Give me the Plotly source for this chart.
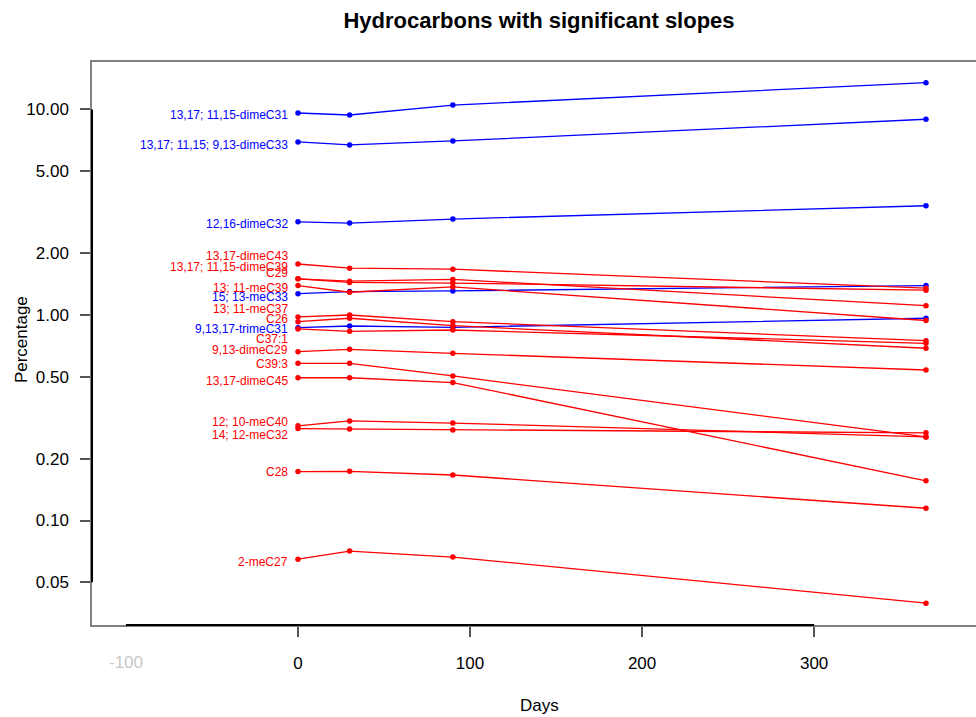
import plotly.graph_objects as go
import math

# Sampling days
days = [0, 30, 90, 365]

# Hydrocarbon percentages per sampling day (blue group: increasing slopes)
dimeC31_13_17_11_15 = [9.61, 9.40, 10.5, 13.5]
dimeC33_13_17_11_15_9_13 = [6.95, 6.72, 7.03, 8.96]
dimeC32_12_16 = [2.84, 2.80, 2.93, 3.40]
meC33_15_13 = [1.27, 1.30, 1.31, 1.39]
trimeC31_9_13_17 = [0.867, 0.884, 0.871, 0.964]

# Red group: decreasing slopes
dimeC43_13_17 = [1.77, 1.69, 1.67, 1.35]
dimeC39_13_17_11_15 = [1.50, 1.46, 1.49, 1.11]
C29 = [1.50, 1.44, 1.43, 1.32]
meC39_13_11 = [1.39, 1.29, 1.37, 0.94]
meC37_13_11 = [0.978, 1.00, 0.928, 0.750]
C26 = [0.928, 0.964, 0.887, 0.689]
C37_1 = [0.855, 0.833, 0.845, 0.728]
dimeC29_9_13 = [0.663, 0.681, 0.651, 0.540]
C39_3 = [0.582, 0.582, 0.505, 0.255]
dimeC45_13_17 = [0.495, 0.495, 0.469, 0.156]
meC40_12_10 = [0.289, 0.305, 0.298, 0.255]
meC32_14_12 = [0.280, 0.279, 0.276, 0.267]
C28 = [0.173, 0.1735, 0.1665, 0.1147]
meC27_2 = [0.0648, 0.0710, 0.0664, 0.0396]

blue_names = ["13,17; 11,15-dimeC31", "13,17; 11,15; 9,13-dimeC33", "12,16-dimeC32",
              "15; 13-meC33", "9,13,17-trimeC31"]
blue_values = [dimeC31_13_17_11_15, dimeC33_13_17_11_15_9_13, dimeC32_12_16,
               meC33_15_13, trimeC31_9_13_17]

red_names = ["13,17-dimeC43", "13,17; 11,15-dimeC39", "C29", "13; 11-meC39",
             "13; 11-meC37", "C26", "C37:1", "9,13-dimeC29", "C39:3",
             "13,17-dimeC45", "12; 10-meC40", "14; 12-meC32", "C28", "2-meC27"]
red_values = [dimeC43_13_17, dimeC39_13_17_11_15, C29, meC39_13_11,
              meC37_13_11, C26, C37_1, dimeC29_9_13, C39_3,
              dimeC45_13_17, meC40_12_10, meC32_14_12, C28, meC27_2]

# Spread-out vertical anchors for the series labels (percentage units)
blue_label_at = [9.40, 6.72, 2.77, 1.224, 0.855]
red_label_at = [1.937, 1.712, 1.601, 1.353, 1.070, 0.956, 0.764, 0.675,
                0.578, 0.477, 0.300, 0.2607, 0.172, 0.0628]

# Axis ticks
x_ticks = [0, 100, 200, 300]
x_faint_tick = -100
y_ticks = [10, 5, 2, 1, 0.5, 0.2, 0.1, 0.05]

FONT = "Liberation Sans, Arial, sans-serif"
BLUE = "#0000FF"
RED = "#FF0000"

fig = go.Figure()
annotations = []


def add_group(names, values, label_at, color):
    for name, vals, lab in zip(names, values, label_at):
        fig.add_trace(go.Scatter(
            x=days, y=vals, mode="lines+markers", name=name,
            line=dict(color=color, width=1.3),
            marker=dict(color=color, size=5.5, symbol="circle"),
            hoverinfo="x+y+name",
        ))
        annotations.append(dict(
            x=days[0], y=math.log10(lab), xref="x", yref="y",
            text=name, showarrow=False, xanchor="right", yanchor="middle",
            xshift=-8, font=dict(family=FONT, size=12, color=color),
        ))


add_group(blue_names, blue_values, blue_label_at, BLUE)
add_group(red_names, red_values, red_label_at, RED)

# Axis titles and the faint leftmost x label
annotations += [
    dict(text="Days", xref="paper", yref="paper", x=0.5057, y=0, yshift=-80,
         showarrow=False, xanchor="center", yanchor="middle",
         font=dict(family=FONT, size=17, color="black")),
    dict(text="Percentage", xref="paper", yref="paper", x=0, y=0.506, xshift=-71,
         textangle=-90, showarrow=False, xanchor="center", yanchor="middle",
         font=dict(family=FONT, size=17, color="black")),
    dict(text=str(x_faint_tick), xref="x", yref="paper", x=x_faint_tick, y=0,
         yshift=-37, showarrow=False, xanchor="center", yanchor="middle",
         font=dict(family=FONT, size=17, color="#c8c8c8")),
]

# Black axis segments spanning the tick range, over the grey frame
shapes = [
    dict(type="line", xref="x", yref="paper", x0=x_faint_tick, x1=max(x_ticks),
         y0=0, y1=0, line=dict(color="black", width=2)),
    dict(type="line", xref="paper", yref="y", x0=0, x1=0,
         y0=min(y_ticks), y1=max(y_ticks),
         line=dict(color="black", width=2)),
]

fig.update_layout(
    width=976, height=717,
    margin=dict(l=92, r=0, t=62, b=92),
    paper_bgcolor="white", plot_bgcolor="white",
    showlegend=False,
    font=dict(family=FONT, color="black"),
    title=dict(text="<b>Hydrocarbons with significant slopes</b>",
               x=539 / 976, xref="container", xanchor="center",
               y=1 - 20 / 717, yref="container", yanchor="middle",
               font=dict(family=FONT, size=22, color="black")),
    annotations=annotations,
    shapes=shapes,
    xaxis=dict(
        range=[-119.73, 394.07], tickvals=x_ticks,
        ticktext=[str(t) for t in x_ticks],
        ticks="outside", ticklen=10, tickwidth=1.5, tickcolor="#555",
        ticklabelstandoff=12,
        tickfont=dict(family=FONT, size=17, color="black"),
        showgrid=False, zeroline=False,
        showline=True, linecolor="#808080", linewidth=1.5, mirror=True,
    ),
    yaxis=dict(
        type="log", range=[-1.5085, 1.231], tickvals=y_ticks,
        ticktext=[f"{t:.2f}" for t in y_ticks],
        ticks="outside", ticklen=10, tickwidth=1.5, tickcolor="#555",
        ticklabelstandoff=8,
        tickfont=dict(family=FONT, size=17, color="black"),
        showgrid=False, zeroline=False,
        showline=True, linecolor="#808080", linewidth=1.5, mirror=False,
    ),
)

fig.write_html("out.html")
